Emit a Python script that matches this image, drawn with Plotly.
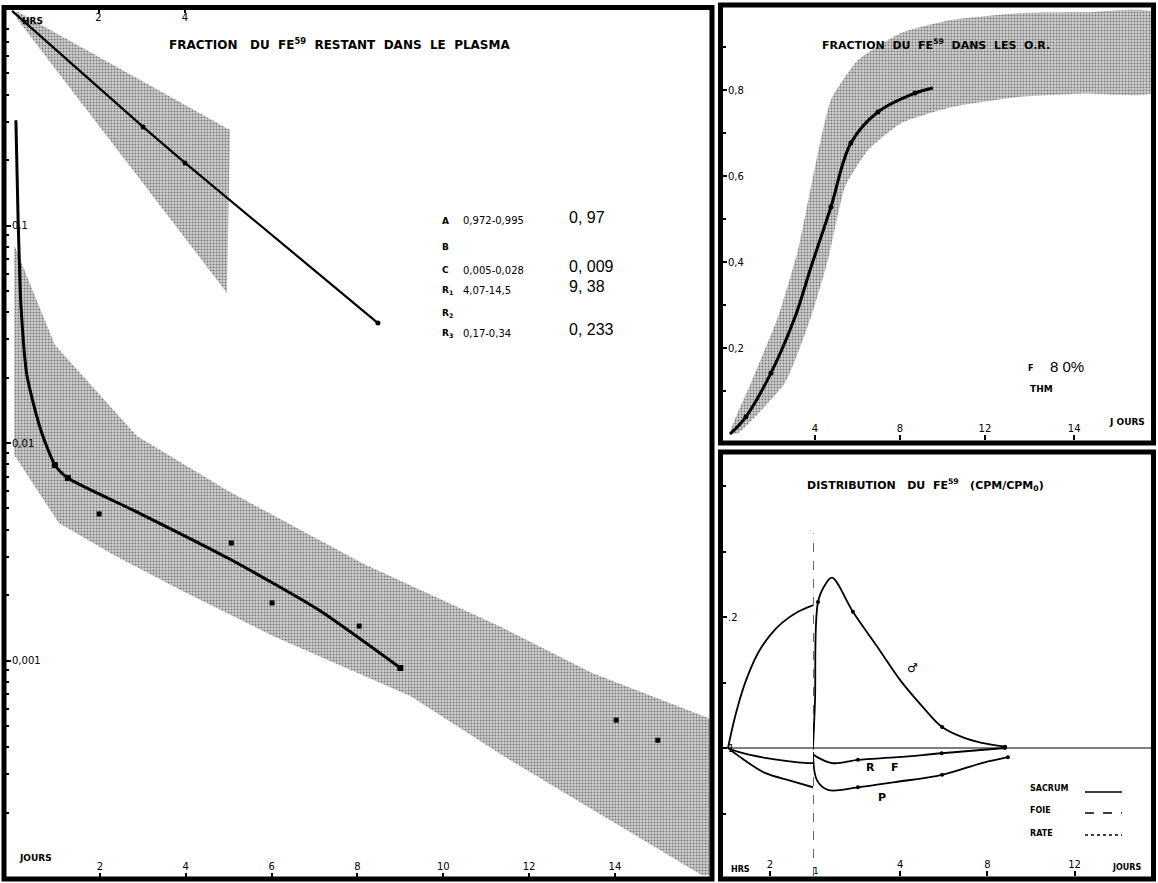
import plotly.graph_objects as go

W, H = 1158, 883

# ---------------- data: main panel (plasma fraction) ----------------
# lower curve (days) - fraction remaining in plasma
plasma_days = [0.04, 0.09, 0.16, 0.30, 0.62, 0.95, 1.25, 2.86, 4.98, 7.10, 9.0]
plasma_frac = [0.305, 0.1094, 0.0422, 0.0203, 0.01148, 0.00792, 0.00690, 0.00482, 0.00296, 0.001706, 0.000924]
plasma_mark_days = [0.95, 1.25, 9.0]
plasma_mark_frac = [0.00792, 0.00690, 0.000924]
# scattered measured points (days)
meas_days = [1.98, 5.06, 6.01, 8.04, 14.03, 15.0]
meas_frac = [0.00472, 0.00347, 0.00184, 0.00144, 0.000532, 0.00043]
# normal band (days)
band_up_days = [0.0, 0.95, 2.86, 4.99, 8.15, 11.35, 13.47, 16.3]
band_up_frac = [0.0813, 0.0282, 0.01076, 0.00601, 0.00278, 0.001426, 0.000877, 0.000532]
band_lo_days = [0.0, 1.04, 2.33, 3.91, 6.03, 9.23, 11.55, 16.03, 16.3]
band_lo_frac = [0.00881, 0.00429, 0.00305, 0.00209, 0.001297, 0.000687, 0.000349, 0.000103, 0.000103]
# early phase (hours)
early_hrs = [0.0, 3.03, 4.0, 8.46]
early_frac = [0.97, 0.284, 0.194, 0.0356]
tri_hrs = [0.1, 5.04, 4.97, 0.1]
tri_frac = [0.97, 0.275, 0.049, 0.90]

# parameters table
param_names = ["A", "B", "C", "R<sub>1</sub>", "R<sub>2</sub>", "R<sub>3</sub>"]
param_ranges = ["0,972-0,995", "", "0,005-0,028", "4,07-14,5", "", "0,17-0,34"]
param_values = ["0, 97", "", "0, 009", "9, 38", "", "0, 233"]

# ---------------- data: top right (RBC fraction) ----------------
rbc_days = [0.0, 0.75, 1.93, 3.06, 3.81, 4.75, 5.69, 6.96, 8.71, 9.55]
rbc_frac = [0.0, 0.040, 0.142, 0.272, 0.388, 0.528, 0.677, 0.749, 0.793, 0.805]
rbc_mark_days = [0.75, 1.93, 4.75, 5.69, 6.96, 8.71]
rbc_mark_frac = [0.040, 0.142, 0.528, 0.677, 0.749, 0.793]
rbc_up_days = [0.0, 0.99, 2.26, 3.2, 4.0, 4.75, 6.02, 8.05, 10.4, 13.55, 16.7, 19.9]
rbc_up_frac = [0.0, 0.119, 0.272, 0.428, 0.621, 0.777, 0.870, 0.933, 0.963, 0.979, 0.981, 0.981]
rbc_lo_days = [0.0, 0.38, 2.59, 3.81, 4.61, 5.41, 6.49, 8.05, 10.4, 13.55, 16.7, 19.9]
rbc_lo_frac = [0.0, 0.002, 0.119, 0.272, 0.405, 0.574, 0.660, 0.723, 0.760, 0.784, 0.792, 0.795]

# ---------------- data: bottom right (distribution) ----------------
sac_hrs = [0.0, 0.33, 0.81, 1.43, 2.0, 2.57, 3.33, 4.05]
sac_hrs_v = [1.0, 1.047, 1.099, 1.145, 1.172, 1.191, 1.208, 1.218]
rf_hrs = [0.0, 0.5, 1.76, 3.81, 4.05]
rf_hrs_v = [1.0, 0.994, 0.985, 0.977, 0.977]
p_hrs = [0.0, 0.5, 1.76, 3.0, 4.05]
p_hrs_v = [1.0, 0.988, 0.962, 0.950, 0.940]

sac_days = [0.0, 0.09, 0.23, 0.55, 0.87, 1.83, 2.98, 3.99, 5.0, 5.92, 6.97, 7.75, 8.81]
sac_days_v = [1.0, 1.07, 1.223, 1.249, 1.260, 1.208, 1.153, 1.104, 1.064, 1.032, 1.015, 1.008, 1.002]
rf_days = [0.0, 0.87, 2.06, 3.9, 5.9, 8.8]
rf_days_v = [0.99, 0.977, 0.982, 0.986, 0.992, 1.0]
p_days = [0.0, 0.18, 0.69, 2.06, 3.76, 5.92, 7.75, 8.94]
p_days_v = [0.994, 0.951, 0.936, 0.94, 0.948, 0.959, 0.977, 0.986]
dist_mark_days = [0.23, 1.83, 5.92, 8.81, 2.06, 5.9, 8.8, 2.06, 5.92, 8.94]
dist_mark_v = [1.223, 1.208, 1.032, 1.002, 0.982, 0.992, 1.0, 0.94, 0.959, 0.986]


def fx(px):
    return px / W


def fy(py):
    return 1 - py / H


PAT = dict(shape=".", fgcolor="#222222", bgcolor="#cfcfcf", size=3, solidity=0.35)
FONT = "DejaVu Sans"

fig = go.Figure()

# main panel band
fig.add_trace(go.Scatter(x=band_up_days + band_lo_days[::-1], y=band_up_frac + band_lo_frac[::-1],
                         fill="toself", mode="lines", line=dict(width=0), fillcolor="rgba(0,0,0,0)",
                         fillpattern=PAT, xaxis="x", yaxis="y", hoverinfo="skip"))
fig.add_trace(go.Scatter(x=tri_hrs, y=tri_frac, fill="toself", mode="lines", line=dict(width=0),
                         fillcolor="rgba(0,0,0,0)", fillpattern=PAT, xaxis="x2", yaxis="y", hoverinfo="skip"))
fig.add_trace(go.Scatter(x=plasma_days, y=plasma_frac, mode="lines",
                         line=dict(color="black", width=3, shape="spline", smoothing=0.6),
                         xaxis="x", yaxis="y"))
fig.add_trace(go.Scatter(x=plasma_mark_days, y=plasma_mark_frac, mode="markers",
                         marker=dict(color="black", size=6, symbol="square"), xaxis="x", yaxis="y"))
fig.add_trace(go.Scatter(x=meas_days, y=meas_frac, mode="markers",
                         marker=dict(color="black", size=5, symbol="square"), xaxis="x", yaxis="y"))
fig.add_trace(go.Scatter(x=early_hrs, y=early_frac, mode="lines", line=dict(color="black", width=2.2),
                         xaxis="x2", yaxis="y"))
fig.add_trace(go.Scatter(x=early_hrs[1:], y=early_frac[1:], mode="markers",
                         marker=dict(color="black", size=5), xaxis="x2", yaxis="y"))

# top right
fig.add_trace(go.Scatter(x=rbc_up_days + rbc_lo_days[::-1], y=rbc_up_frac + rbc_lo_frac[::-1],
                         fill="toself", mode="lines", line=dict(width=0, shape="spline", smoothing=0.5),
                         fillcolor="rgba(0,0,0,0)",
                         fillpattern=PAT, xaxis="x3", yaxis="y3", hoverinfo="skip"))
fig.add_trace(go.Scatter(x=rbc_days, y=rbc_frac, mode="lines", line=dict(color="black", width=3, shape="spline"),
                         xaxis="x3", yaxis="y3"))
fig.add_trace(go.Scatter(x=rbc_mark_days, y=rbc_mark_frac, mode="markers",
                         marker=dict(color="black", size=5), xaxis="x3", yaxis="y3"))

# bottom right
for xs, ys, ax in [(sac_hrs, sac_hrs_v, "x4"), (rf_hrs, rf_hrs_v, "x4"), (p_hrs, p_hrs_v, "x4"),
                   (sac_days, sac_days_v, "x5"), (rf_days, rf_days_v, "x5"), (p_days, p_days_v, "x5")]:
    fig.add_trace(go.Scatter(x=xs, y=ys, mode="lines", line=dict(color="black", width=1.8, shape="spline"),
                             xaxis=ax, yaxis="y4"))
fig.add_trace(go.Scatter(x=dist_mark_days, y=dist_mark_v,
                         mode="markers", marker=dict(color="black", size=4), xaxis="x5", yaxis="y4"))

tickfont = dict(family=FONT, size=10, color="black")
base = dict(showgrid=False, zeroline=False, showline=False, tickfont=tickfont, ticks="inside",
            ticklen=5, tickcolor="black", tickwidth=1.5, ticklabelposition="inside")

minor_vals = [k * 10 ** e for e in (-4, -3, -2, -1) for k in range(2, 10)]

layout = dict(
    width=W, height=H, margin=dict(l=0, r=0, t=0, b=0), showlegend=False,
    paper_bgcolor="white", plot_bgcolor="rgba(0,0,0,0)",
    xaxis=dict(base, domain=[fx(5), fx(711)], range=[-0.214, 16.24], anchor="y",
               tickvals=[2, 4, 6, 8, 10, 12, 14]),
    xaxis2=dict(base, domain=[fx(5), fx(711)], range=[-0.162, 16.16], anchor="y", overlaying="x",
                side="top", tickvals=[2, 4]),
    yaxis=dict(base, domain=[fy(878), fy(8)], type="log", range=[-4, 0], anchor="x",
               tickvals=[0.1, 0.01, 0.001], ticktext=["0,1", "0,01", "0,001"], ticklen=6,
               minor=dict(tickvals=minor_vals, ticks="inside", ticklen=4, tickcolor="black")),
    xaxis3=dict(base, domain=[fx(722), fx(1152)], range=[-0.376, 19.86], anchor="y3",
                tickvals=[4, 8, 12, 16.2], ticktext=["4", "8", "12", "14"]),
    yaxis3=dict(base, domain=[fy(440), fy(8)], range=[-0.014, 0.991], anchor="x3",
                tickvals=[0.2, 0.4, 0.6, 0.8], ticktext=["0,2", "0,4", "0,6", "0,8"],
                minor=dict(dtick=0.1, ticks="inside", ticklen=4, tickcolor="black")),
    xaxis4=dict(base, domain=[fx(722), fx(813)], range=[-0.286, 4.048], anchor="y4", tickvals=[2]),
    xaxis5=dict(base, domain=[fx(813), fx(1152)], range=[0, 15.55], anchor="y4", tickvals=[4, 8, 12]),
    yaxis4=dict(base, domain=[fy(876), fy(454)], range=[0.8046, 1.4489], anchor="x4",
                tickvals=[1.0, 1.2], ticktext=["1", ".2"],
                minor=dict(dtick=0.1, ticks="inside", ticklen=4, tickcolor="black")),
)
fig.update_layout(layout)

shapes = []
# panel borders
for x0, x1, y0, y1 in [(4, 712, 7.5, 879), (720.5, 1153.5, 5, 443), (720.5, 1153.5, 452, 879)]:
    shapes.append(dict(type="rect", xref="paper", yref="paper", x0=fx(x0), x1=fx(x1), y0=fy(y1), y1=fy(y0),
                       line=dict(color="black", width=5)))
# baseline and dashed divider in distribution panel
shapes.append(dict(type="line", xref="paper", yref="y4", x0=fx(722), x1=fx(1152), y0=1.0, y1=1.0,
                   line=dict(color="black", width=1.2)))
shapes.append(dict(type="line", xref="x5", yref="y4", x0=0, x1=0, y0=0.8046, y1=1.328,
                   line=dict(color="black", width=1.2, dash="dash")))
# legend samples
for py, dash in [(792, "solid"), (813, "dash"), (835, "dot")]:
    shapes.append(dict(type="line", xref="paper", yref="paper", x0=fx(1085), x1=fx(1122), y0=fy(py), y1=fy(py),
                       line=dict(color="black", width=1.5, dash=dash)))
fig.update_layout(shapes=shapes)

ann = []


def A(px, py, text, size=10, bold=False, xanchor="center", family=FONT):
    t = f"<b>{text}</b>" if bold else text
    ann.append(dict(xref="paper", yref="paper", x=fx(px), y=fy(py), text=t, showarrow=False,
                    xanchor=xanchor, yanchor="middle", font=dict(family=family, size=size, color="black")))


A(339, 44, "FRACTION   DU  FE<sup>59</sup>  RESTANT  DANS  LE  PLASMA", size=12, bold=True)
A(32, 21, "HRS", size=9, bold=True)
A(35, 858, "JOURS", size=9, bold=True)
rows_y = [221, 247, 270, 290, 313, 333]
for name, rng, val, py in zip(param_names, param_ranges, param_values, rows_y):
    A(440, py, name, size=9, bold=True, xanchor="left")
    if rng:
        A(461, py, rng, size=10, xanchor="left")
    if val:
        A(567, py - 4, val, size=16, xanchor="left", family="Liberation Sans")

A(936, 44, "FRACTION  DU  FE<sup>59</sup>  DANS  LES  O.R.", size=11, bold=True)
A(1030, 368, "F", size=8, bold=True)
A(1048, 366, "8 0%", size=15, xanchor="left", family="Liberation Sans")
A(1041, 389, "THM", size=9, bold=True)
A(1127, 422, "J OURS", size=9, bold=True)

A(925, 485, "DISTRIBUTION   DU  FE<sup>59</sup>   (CPM/CPM<sub>0</sub>)", size=11, bold=True)
A(870, 767, "R", size=11, bold=True)
A(895, 767, "F", size=11, bold=True)
A(882, 797, "P", size=11, bold=True)
A(912, 668, "♂", size=12)
A(1028, 788, "SACRUM", size=8, bold=True, xanchor="left")
A(1028, 810, "FOIE", size=8, bold=True, xanchor="left")
A(1028, 833, "RATE", size=8, bold=True, xanchor="left")
A(740, 869, "HRS", size=8, bold=True)
A(816, 871, "1", size=9)
A(1126, 867, "JOURS", size=8, bold=True)

fig.update_layout(annotations=ann)
fig.write_html("out.html", config={"displayModeBar": False},
               post_script="document.body.style.margin='0';document.body.style.overflow='hidden';")
